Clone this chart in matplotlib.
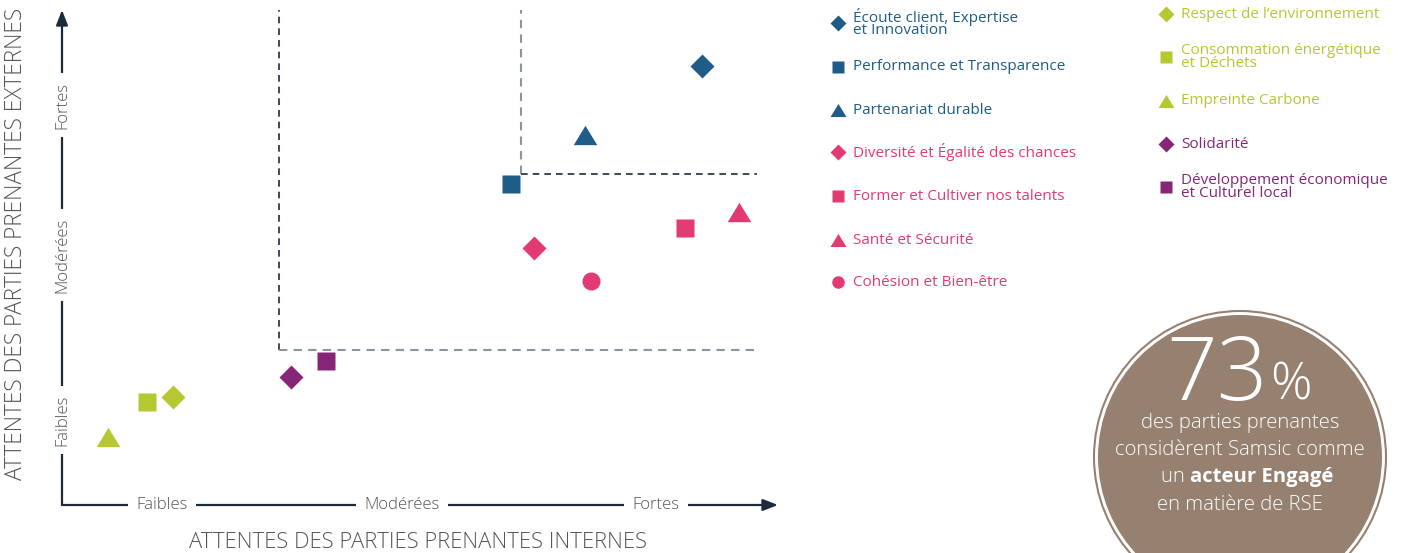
import matplotlib.pyplot as plt
from matplotlib.patches import Circle
from matplotlib.path import Path

plt.rcParams['font.family'] = ['Open Sans', 'DejaVu Sans']

# --- data (0-100 scale on both axes) ---
themes = ["Écoute client, Expertise\net Innovation", "Performance et Transparence",
          "Partenariat durable", "Diversité et Égalité des chances",
          "Former et Cultiver nos talents", "Santé et Sécurité", "Cohésion et Bien-être",
          "Respect de l\u2019environnement", "Consommation énergétique\net Déchets",
          "Empreinte Carbone", "Solidarité", "Développement économique\net Culturel local"]
attentes_internes = [89.4, 62.7, 73.0, 65.9, 87.0, 94.6, 73.9, 15.5, 11.9, 6.4, 32.0, 36.9]
attentes_externes = [88.7, 64.8, 74.7, 51.9, 56.0, 59.2, 45.3, 21.8, 20.8, 13.7, 25.9, 29.1]
niveaux = ["Faibles", "Modérées", "Fortes"]
seuil_modere = (30.3, 31.3)
seuil_fort = (64.1, 66.9)
pct_engage = 73

# styles
BLUE, PINK, GREEN, PURPLE = '#1f5c87', '#e23a73', '#b5c832', '#862677'
tri = Path([(-1, -0.82), (1, -0.82), (0, 0.82), (-1, -0.82)])
colors = [BLUE] * 3 + [PINK] * 4 + [GREEN] * 3 + [PURPLE] * 2
markers = ['D', 's', tri, 'D', 's', tri, 'o', 'D', 's', tri, 'D', 's']
sizes = {'D': 12.5, 's': 13, 'o': 13}
DARK = '#1c2b3c'
GREY = '#8b959d'
TXT = '#555555'

fig = plt.figure(figsize=(14.05, 5.53), dpi=100)
ax = fig.add_axes([62 / 1405, 1 - 505 / 553, 716 / 1405, 495 / 553])
ax.set_xlim(0, 100)
ax.set_ylim(0, 100)
ax.axis('off')

# dashed zones
ax.plot([seuil_modere[0], seuil_modere[0]], [seuil_modere[1], 100], ls=(0, (4, 3)), lw=1.2, color=DARK)
ax.plot([seuil_modere[0], 97], [seuil_modere[1], seuil_modere[1]], ls=(0, (4, 3)), lw=1.5, color=GREY)
ax.plot([seuil_fort[0], seuil_fort[0]], [seuil_fort[1], 100], ls=(0, (4, 3)), lw=1.5, color=GREY)
ax.plot([seuil_fort[0], 97], [seuil_fort[1], seuil_fort[1]], ls=(0, (4, 3)), lw=1.2, color=DARK)

for xi, yi, c, m in zip(attentes_internes, attentes_externes, colors, markers):
    ms = sizes.get(m, 17) if isinstance(m, str) else 17
    ax.plot(xi, yi, marker=m, ms=ms, color=c, mec='none', ls='none', clip_on=False)

# axes arrows
arrow = dict(arrowstyle='-|>,head_length=0.9,head_width=0.35', color=DARK, lw=1.6, shrinkA=0, shrinkB=0)
ax.annotate('', xy=(1, 0), xytext=(0, 0), xycoords='axes fraction', arrowprops=arrow)
ax.annotate('', xy=(0, 1), xytext=(0, 0), xycoords='axes fraction', arrowprops=arrow)
lab_bbox = dict(facecolor='white', edgecolor='none', pad=6)
for pos, lab in zip([0.140, 0.475, 0.830], niveaux):
    ax.text(pos, 0, lab, transform=ax.transAxes, ha='center', va='center', fontsize=12,
            color=TXT, fontweight='light', bbox=lab_bbox)
for pos, lab in zip([0.172, 0.505, 0.808], niveaux):
    ax.text(0, pos, lab, transform=ax.transAxes, ha='center', va='center', fontsize=12,
            color=TXT, rotation=90, fontweight='light', bbox=lab_bbox)

# overlay in pixel coords for legend / badge / titles
ov = fig.add_axes([0, 0, 1, 1])
ov.set_xlim(0, 1405)
ov.set_ylim(553, 0)
ov.axis('off')

ov.text(418, 543, "ATTENTES DES PARTIES PRENANTES INTERNES", ha='center', va='center',
        fontsize=15.8, color=TXT, fontweight='light')
ov.text(16, 244, "ATTENTES DES PARTIES PRENANTES EXTERNES", ha='center', va='center',
        fontsize=16.3, color=TXT, fontweight='light', rotation=90)

# legend
leg_ms = {'D': 8.5, 's': 9, 'o': 9}
col1_y = [23, 67, 110, 152, 196, 240, 282]
col2_y = [14, 57, 101, 144, 187]
leg_pos = [(838, y) for y in col1_y] + [(1166, y) for y in col2_y]
for (lx, ly), name, c, m in zip(leg_pos, themes, colors, markers):
    ms = leg_ms.get(m, 11.5) if isinstance(m, str) else 11.5
    ov.plot(lx, ly, marker=m, ms=ms, color=c, mec='none', ls='none')
    ov.text(lx + 15, ly, name, ha='left', va='center', fontsize=11, color=c, linespacing=0.8)

# badge
ov.add_patch(Circle((1240, 457), 146, facecolor='none', edgecolor='#968170', lw=1.5, clip_on=False))
ov.add_patch(Circle((1240, 457), 142, facecolor='#968170', edgecolor='none', clip_on=False))
ov.text(1268, 400, str(pct_engage), ha='right', va='baseline', fontsize=64, color='white', fontweight='light')
ov.text(1270, 400, "%", ha='left', va='baseline', fontsize=37, color='white', fontweight='light')
body = dict(ha='center', va='center', fontsize=14.6, color='white', fontweight='light')
ov.text(1240, 423, "des parties prenantes", **body)
ov.text(1240, 450, "considèrent Samsic comme", **body)
ov.text(1190, 477, "un ", ha='right', va='center', fontsize=14.6, color='white', fontweight='light')
ov.text(1190, 477, "acteur Engagé", ha='left', va='center', fontsize=14.6, color='white', fontweight='bold')
ov.text(1240, 505, "en matière de RSE", **body)

fig.savefig('out.png', dpi=100)
